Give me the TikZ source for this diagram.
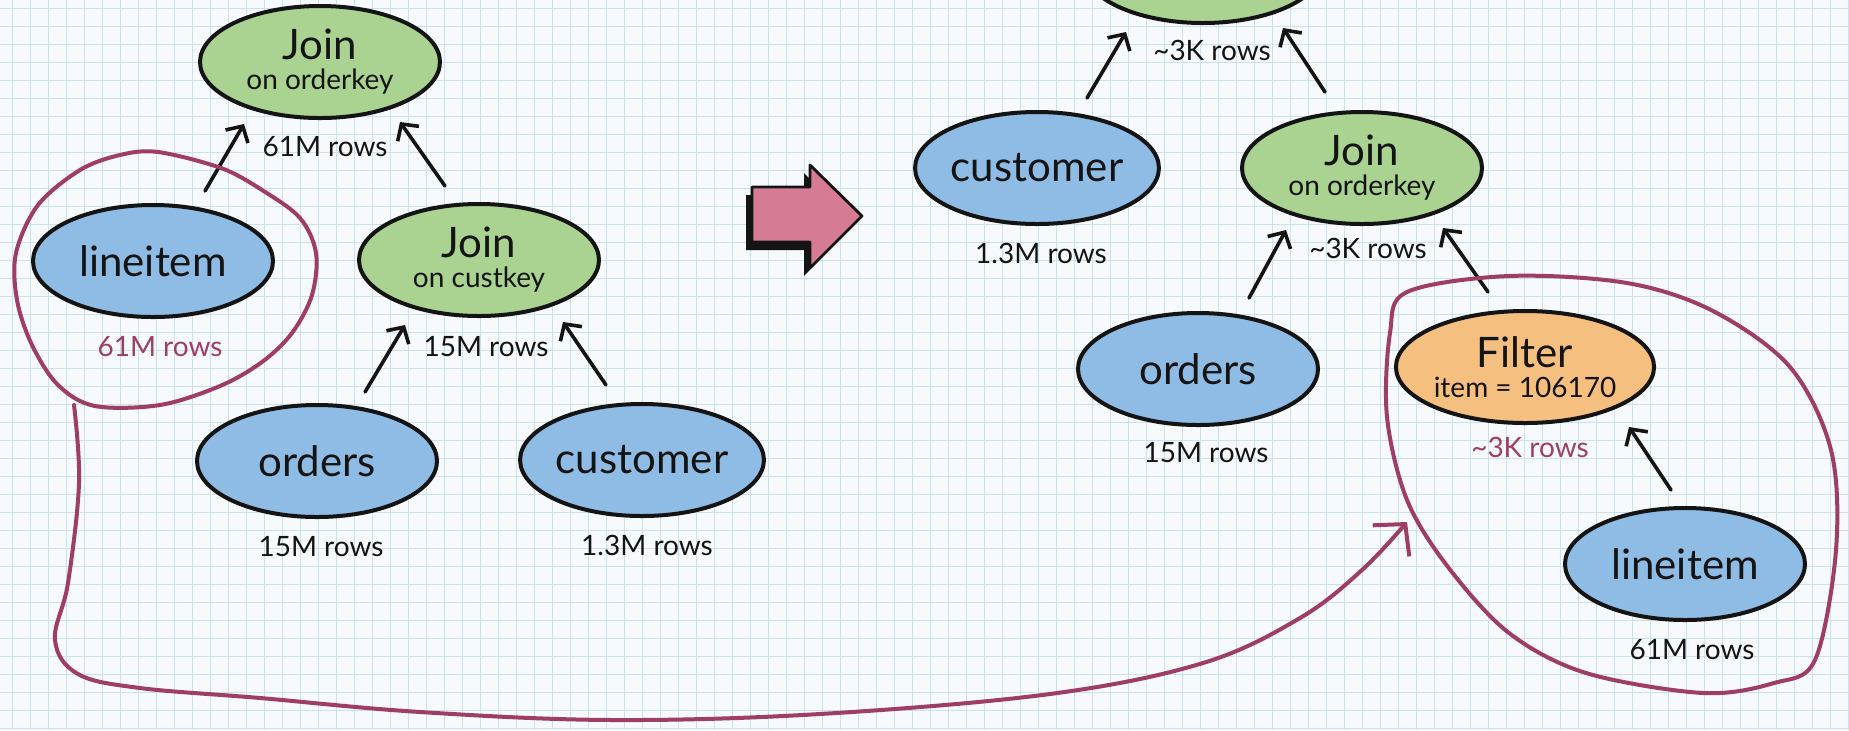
\documentclass[tikz,border=0pt]{standalone}
\usepackage{fontspec}
\setmainfont{Lato}
\usetikzlibrary{shapes.geometric,arrows.meta,calc}
\definecolor{gridc}{HTML}{CBE1EC}
\definecolor{paper}{HTML}{F7FAFC}
\definecolor{tblue}{HTML}{8FBCE4}
\definecolor{tgreen}{HTML}{AAD291}
\definecolor{torange}{HTML}{F5BF80}
\definecolor{plum}{HTML}{9E3D66}
\definecolor{pinkarr}{HTML}{D57C94}
\definecolor{ink}{HTML}{141414}
\newcommand{\bigtxt}{\fontsize{21}{21}\selectfont}
\newcommand{\smalltxt}{\fontsize{14}{14}\selectfont}
\tikzset{
  op/.style={ellipse, draw=ink, line width=2pt, minimum width=120pt, minimum height=56pt,
    inner sep=0pt, align=center, font=\bigtxt, text=ink},
  tbl/.style={op, fill=tblue},
  jn/.style={op, fill=tgreen},
  flt/.style={op, fill=torange},
  rows/.style={font=\smalltxt, text=ink, inner sep=1pt},
  hot/.style={rows, text=plum},
  edge/.style={draw=ink, line width=1.8pt, line cap=round,
    -{Straight Barb[length=6pt,width=13pt,line width=1.8pt]}},
  loop/.style={draw=plum, line width=2pt, line cap=round, line join=round},
}
\begin{document}
\begin{tikzpicture}[x=0.5pt,y=-0.5pt]
\useasboundingbox (0,0) rectangle (1849,730);
\clip (0,0) rectangle (1849,730);
\fill[paper] (0,0) rectangle (1849,730);
% grid
\foreach \i in {0,...,102} \draw[gridc, line width=0.5pt] ({12.7+18*\i},0) -- ++(0,730);
\foreach \j in {0,...,40} \draw[gridc, line width=0.5pt] (0,{8+18*\j}) -- ++(1849,0);

% ---------- left plan ----------
\node[jn]  (J1) at (320,62)  {Join\\[-6pt]{\smalltxt on orderkey}};
\node[tbl] (L1) at (153,261) {lineitem};
\node[jn]  (J2) at (479,260) {Join\\[-6pt]{\smalltxt on custkey}};
\node[tbl] (O1) at (317,461) {orders};
\node[tbl] (C1) at (642,460) {customer};

\node[rows] (J1r) at ($(J1)+(5,85)$) {61M rows};
\node[hot]  (L1r) at ($(L1)+(7,86)$) {61M rows};
\node[rows] (J2r) at ($(J2)+(7,87)$) {15M rows};
\node[rows] (O1r) at ($(O1)+(4,86)$) {15M rows};
\node[rows] (C1r) at ($(C1)+(5,85)$) {1.3M rows};

\draw[edge] ($(L1)+(52,-70)$) -- ($(J1)+(-76,62)$);
\draw[edge] ($(J2)+(-34,-74)$) -- ($(J1)+(80,60)$);
\draw[edge] ($(O1)+(48,-69)$) -- ($(J2)+(-74,65)$);
\draw[edge] ($(C1)+(-36,-75)$) -- ($(J2)+(84,62)$);

% ---------- right plan ----------
\node[jn]  (J3) at (1203,-33) {Join\\[-6pt]{\smalltxt on custkey}};
\node[tbl] (C2) at (1037,168) {customer};
\node[jn]  (J4) at (1362,168) {Join\\[-6pt]{\smalltxt on orderkey}};
\node[tbl] (O2) at (1198,369) {orders};
\node[flt] (F)  at (1525,367) {Filter\\[-6pt]{\smalltxt item = 106170}};
\node[tbl] (L2) at (1685,564) {lineitem};

\node[rows] (J3r) at ($(J3)+(9,83)$) {\textasciitilde 3K rows};
\node[rows] (C2r) at ($(C2)+(4,85)$) {1.3M rows};
\node[rows] (J4r) at ($(J4)+(6,80)$) {\textasciitilde 3K rows};
\node[rows] (O2r) at ($(O2)+(8,84)$) {15M rows};
\node[hot]  (Fr)  at ($(F)+(5,80)$) {\textasciitilde 3K rows};
\node[rows] (L2r) at ($(L2)+(7,86)$) {61M rows};

\draw[edge] ($(C2)+(50,-70)$) -- ($(J3)+(-77,65)$);
\draw[edge] ($(J4)+(-37,-76)$) -- ($(J3)+(80,61)$);
\draw[edge] ($(O2)+(51,-71)$) -- ($(J4)+(-76,62)$);
\draw[edge] ($(F)+(-37,-75)$) -- ($(J4)+(81,60)$);
\draw[edge] ($(L2)+(-14,-74)$) -- ($(F)+(104,60)$);

% ---------- transform arrow ----------
\fill[ink] ($(752,187)+(-6,8)$) -- ++(58,0) -- ++(0,-22) -- ++(50,51) -- ++(-50,52) -- ++(0,-26) -- ++(-58,0) -- cycle;
\filldraw[fill=pinkarr, draw=ink, line width=1.4pt, line join=round]
  (752,187) -- (810,187) -- (810,165) -- (862,216) -- (810,268) -- (810,242) -- (752,242) -- cycle;

% ---------- highlight loops ----------
\draw[loop] plot[smooth cycle, tension=0.55] coordinates {
  (158,152) (221,168) (262,190) (300,218) (316,253) (312,295) (292,333)
  (262,362) (220,386) (160,405) (95,406) (58,385) (32,345) (17,300)
  (16,253) (38,205) (80,170) (120,155)};
\draw[loop] plot[smooth cycle, tension=0.55] coordinates {
  (1407,292) (1509,276) (1627,283) (1713,311) (1790,367) (1831,450)
  (1836,550) (1815,660) (1774,683) (1703,693) (1586,673) (1509,633)
  (1448,567) (1407,500) (1387,417) (1390,333)};
\coordinate (cs) at (74,405);
\coordinate (ce) at (1407,522);
\draw[loop, -{Straight Barb[length=11pt,width=24pt,line width=2pt]}]
  plot[smooth, tension=0.6] coordinates {
  (cs) (79,483) (68,583) (55,640) (78,674) (140,688) (260,698)
  (420,712) (612,720) (820,714) (1050,694) (1203,663) (1300,618) (1362,570) (ce)};
\end{tikzpicture}
\end{document}
